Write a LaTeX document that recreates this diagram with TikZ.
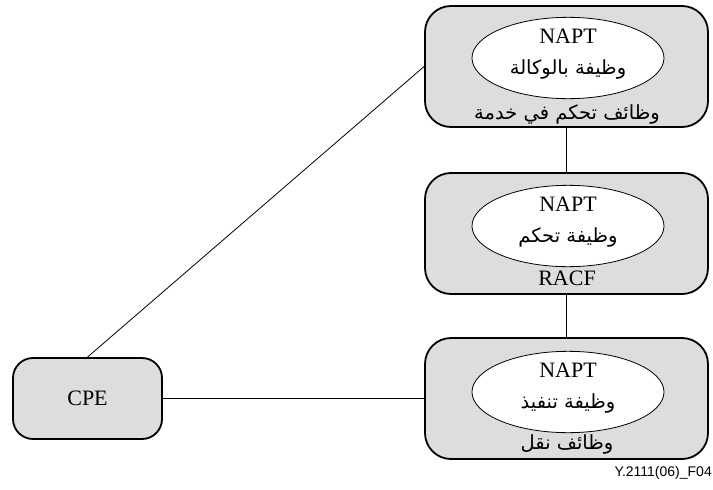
\documentclass[tikz,border=0pt]{standalone}
\usepackage{fontspec}
\usetikzlibrary{shapes.geometric}
\setmainfont{Liberation Serif}
\newfontfamily\arabicfont[Script=Arabic]{DejaVu Sans}
\newfontfamily\labelfont{Liberation Sans}
\TeXXeTstate=1
\definecolor{boxgray}{RGB}{221,221,221}
\newcommand{\ar}[1]{{\arabicfont\fontsize{19.5}{24}\selectfont\beginR #1\endR}}
\tikzset{
  funcbox/.style={draw, line width=1.8pt, fill=boxgray, rounded corners=26pt,
    minimum width=283pt, minimum height=121pt, inner sep=0pt},
  cpebox/.style={draw, line width=1.8pt, fill=boxgray, rounded corners=20pt,
    minimum width=149pt, minimum height=81pt, inner sep=0pt, font=\fontsize{22}{26}\selectfont},
  napt/.style={draw, line width=0.8pt, fill=white, ellipse, minimum width=192pt,
    minimum height=67pt, inner sep=0pt, align=center, font=\fontsize{22}{31}\selectfont},
  boxtitle/.style={font=\fontsize{22}{26}\selectfont, inner sep=0pt},
  link/.style={line width=0.8pt}
}
\begin{document}
\begin{tikzpicture}[x=1pt,y=-1pt]
\useasboundingbox (0,0) rectangle (713,490);
% network-side functional entities
\node[funcbox] (svc) at (566.5,66.5) {};
\node[funcbox] (racf) at (566.5,233.5) {};
\node[funcbox] (trn) at (566.5,398.5) {};
% customer premises equipment
\node[cpebox] (cpe) at (87.5,398.5) {CPE};
% NAPT functions inside each entity
\node[napt] (proxy) at (568,58) {NAPT\\\ar{وظيفة بالوكالة}\rule[-12pt]{0pt}{0pt}};
\node[napt] (ctrl) at (568,226) {NAPT\\\ar{وظيفة تحكم}\rule[-12pt]{0pt}{0pt}};
\node[napt] (enf) at (568,392) {NAPT\\\ar{وظيفة تنفيذ}\rule[-12pt]{0pt}{0pt}};
% entity names
\node[boxtitle] (svct) at (567,114) {\ar{وظائف تحكم في خدمة}};
\node[boxtitle] (racft) at (567,278) {RACF};
\node[boxtitle] (trnt) at (567,444) {\ar{وظائف نقل}};
% connections
\draw[link] (svc.south) -- (racf.north);
\draw[link] (racf.south) -- (trn.north);
\draw[link] (cpe.north) -- (svc.west);
\draw[link] (cpe.east) -- (trn.west);
% figure tag
\node[anchor=east, inner sep=0pt, font=\labelfont\fontsize{14}{16}\selectfont] (tag) at (712,473) {Y.2111(06)\_F04};
\end{tikzpicture}
\end{document}
